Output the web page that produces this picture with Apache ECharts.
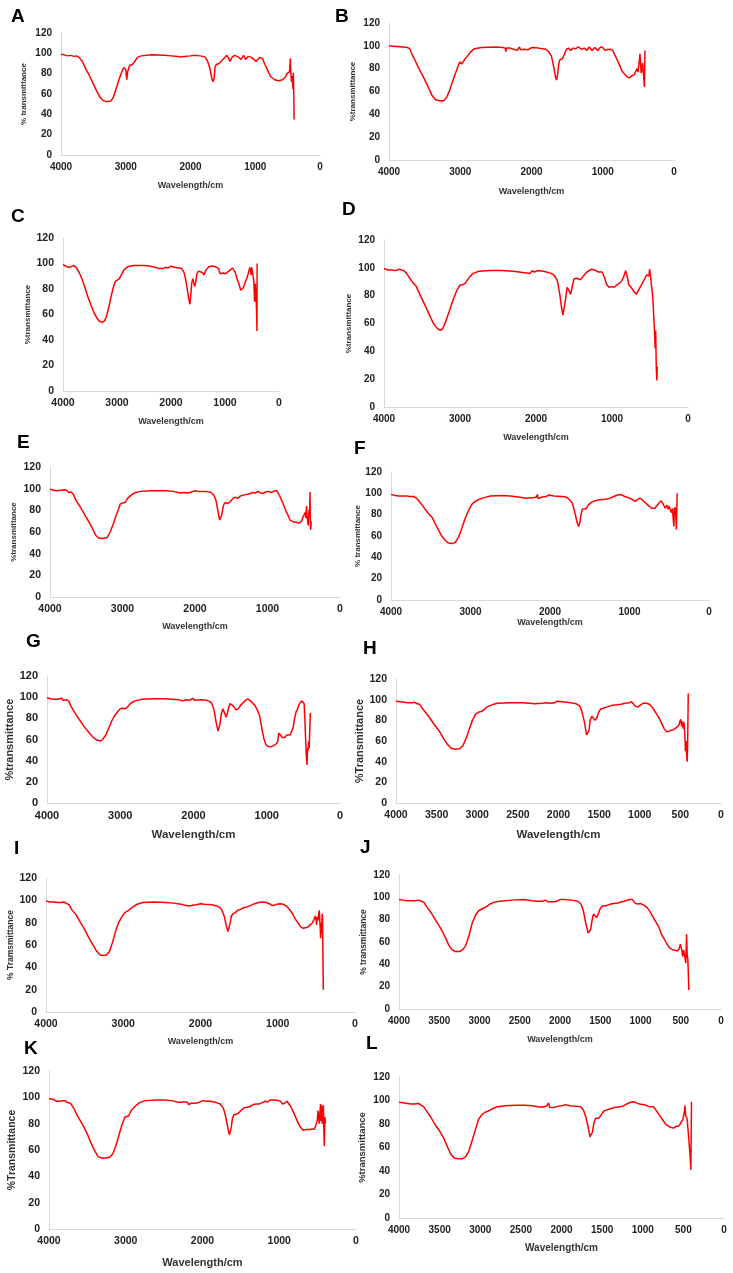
<!DOCTYPE html>
<html>
<head>
  <meta charset="utf-8">
  <title>FTIR spectra A-L</title>
  <script src="https://cdn.jsdelivr.net/npm/echarts/dist/echarts.min.js"></script>
  <style>
    html, body { margin: 0; padding: 0; background: #fff; }
  </style>
</head>
<body>
  <div id="main" style="width: 733px;height:1273px;"></div>
  <script type="text/javascript">
    // spectra: [wavenumber, %T]
    var specA = [[4000,99],[3950,98.5],[3900,97.5],[3850,98],[3800,97],[3760,97.5],[3720,96],[3700,96.5],[3670,92],[3620,85],[3560,78],[3500,70],[3450,63],[3400,57],[3350,53.5],[3300,52.5],[3230,53],[3190,57],[3150,65],[3100,75],[3060,82],[3030,86],[3000,84],[2985,74],[2970,82],[2940,88],[2900,89],[2870,91],[2820,96],[2760,97.5],[2600,98.5],[2400,98],[2300,97.5],[2200,97],[2150,96.5],[2100,97],[2000,97.5],[1950,98],[1850,97.5],[1780,96.5],[1740,93],[1700,85],[1670,75],[1650,72],[1635,76],[1620,87],[1600,89],[1560,90],[1530,92],[1500,94],[1470,96],[1440,98],[1410,95],[1390,92],[1360,96],[1320,98],[1290,99],[1250,96],[1220,94],[1180,98],[1150,94],[1110,97],[1060,96],[1020,94],[990,92],[960,94],[930,96],[890,95],[850,89],[800,82],[760,77],[700,74],[640,73],[580,74],[530,77],[510,80],[490,79],[470,82],[458,95],[450,80],[440,72],[430,78],[418,65],[412,81],[405,60],[400,35]];
    var specB = [[4000,100],[3900,99.5],[3800,99],[3740,98.5],[3710,97.5],[3680,93],[3640,88],[3580,80],[3520,73],[3450,64],[3400,57],[3350,53],[3300,52],[3230,52],[3190,55],[3150,61],[3100,70],[3060,77],[3020,84],[3000,86],[2980,84],[2965,83],[2940,88],[2900,91],[2850,95],[2800,97.5],[2700,98.5],[2500,99],[2400,98.5],[2370,98],[2360,95],[2350,98],[2300,98],[2250,97],[2200,96],[2170,99],[2150,96.5],[2100,97],[2050,96.5],[2000,98.5],[1900,98],[1800,97],[1760,95],[1720,91],[1690,82],[1660,72],[1648,70],[1635,74],[1615,85],[1600,88],[1570,88.5],[1540,92],[1510,97],[1480,98],[1450,96],[1420,98],[1380,97.5],[1340,99],[1300,97],[1260,98],[1220,96],[1190,99],[1150,96],[1110,98.5],[1070,96],[1030,99],[1000,98.5],[970,96],[940,96.5],[900,97],[860,96],[800,88],[770,84],[730,78],[690,75],[650,72.5],[620,72],[590,74],[560,74.5],[540,76],[520,80],[505,77],[490,85],[478,93],[470,86],[460,76],[450,80],[440,85],[432,78],[425,72],[415,64],[408,96]];
    var specC = [[4000,99],[3950,98],[3900,97],[3850,97.5],[3800,98.5],[3780,98],[3750,96.5],[3720,96],[3690,92],[3650,88],[3600,82],[3540,74],[3480,67],[3420,61],[3370,57],[3320,54.5],[3270,54],[3230,55],[3190,59],[3150,66],[3110,74],[3070,81],[3030,86],[3000,87.5],[2960,88],[2920,91],[2870,95],[2800,97.5],[2700,98.5],[2500,98.5],[2400,98],[2300,97],[2220,96],[2200,97],[2150,96],[2100,97],[2050,96.5],[2000,98],[1950,97],[1850,96.5],[1800,96],[1760,93],[1730,88],[1700,80],[1670,72],[1650,68],[1635,75],[1615,85],[1595,88],[1580,85],[1560,82],[1540,86],[1520,92],[1490,94],[1460,92.5],[1420,93],[1390,91],[1350,95],[1300,97.5],[1250,98],[1180,97.5],[1150,98.5],[1120,96],[1090,92],[1060,91],[1030,92.5],[990,92],[960,93],[900,95],[860,96.5],[840,97],[810,93],[770,87],[740,84],[710,79],[690,78],[660,81],[630,85],[600,88],[570,92],[540,97],[525,96],[515,91],[505,97],[495,98],[480,97],[465,86],[452,70],[440,84],[425,73],[415,62],[408,47],[405,100]];
    var specD = [[4000,99.5],[3950,98.5],[3900,98.5],[3850,98],[3800,99],[3780,98],[3740,98],[3710,96.5],[3680,94],[3630,90],[3580,87],[3520,80],[3460,73],[3400,66],[3350,60],[3300,56.5],[3260,55],[3230,56],[3190,61],[3140,69],[3090,77],[3040,84],[3000,87.5],[2960,88],[2930,89],[2880,93],[2830,96],[2750,97.5],[2600,98],[2450,98],[2300,97.5],[2150,96.5],[2080,96],[2050,98],[2020,97],[1980,98],[1900,97.5],[1800,96],[1760,94.5],[1720,91],[1690,82],[1660,70],[1645,66],[1630,66],[1610,78],[1590,86],[1570,84],[1545,81],[1525,86],[1500,92],[1470,92.5],[1440,92],[1410,91.5],[1380,94],[1330,97],[1270,99],[1230,98.5],[1180,97],[1130,97],[1100,93],[1070,88],[1040,86],[1000,86.5],[970,86],[930,88],[880,90],[850,93],[820,98],[800,94],[780,88],[750,86],[710,83],[680,81],[640,85],[600,89],[570,92],[545,95],[530,95.5],[515,94],[505,99],[495,95],[480,87],[465,80],[450,65],[440,53],[432,42],[425,55],[418,30],[410,19],[405,28],[400,29]];
    var specE = [[4000,99.5],[3950,98.5],[3900,98],[3850,98.5],[3800,99],[3770,98.5],[3740,96.5],[3710,97],[3680,95],[3640,89],[3590,84],[3530,77],[3470,70],[3420,64],[3370,57],[3330,54.5],[3270,54],[3210,55],[3170,60],[3130,67],[3090,75],[3050,82],[3030,86],[2990,87],[2960,87.5],[2930,91],[2880,94],[2820,96.5],[2750,97.5],[2600,98],[2400,98],[2300,97.5],[2230,96.5],[2200,96],[2150,96.5],[2100,96],[2050,97],[2000,98],[1950,97.5],[1850,97.5],[1780,96.5],[1740,94],[1710,89],[1680,78],[1660,71],[1645,70],[1630,76],[1610,84],[1590,87],[1560,86.5],[1530,87],[1500,89],[1470,91.5],[1440,92],[1410,91],[1380,93],[1340,94],[1300,94.5],[1250,95],[1210,96.5],[1170,96],[1130,97.5],[1100,96],[1060,95.5],[1030,97],[990,97.5],[950,96.5],[900,98],[870,98],[830,93],[790,87],[750,80],[720,76],[690,71],[650,69.5],[600,69],[560,68],[530,70],[510,74],[495,75],[480,78],[470,73],[462,84],[455,74],[445,70],[438,66],[428,80],[420,76],[414,97],[408,64],[403,62],[398,70]];
    var specF = [[4000,99],[3950,98],[3900,97.5],[3850,97.5],[3800,97.5],[3760,97],[3720,97],[3680,95.5],[3650,93],[3600,88],[3540,82],[3480,77],[3420,68],[3370,61],[3320,56],[3280,53.5],[3230,53],[3190,54],[3150,59],[3110,67],[3070,76],[3030,83],[2990,89],[2950,92],[2900,94],[2850,95.5],[2750,97.5],[2600,98],[2500,97.5],[2400,96.5],[2300,95.5],[2200,96],[2170,96.5],[2158,99],[2150,95],[2100,96.5],[2050,97],[2010,98.5],[1950,97.5],[1850,97],[1800,96.5],[1760,94.5],[1720,91],[1690,83],[1660,73],[1640,69],[1625,72],[1610,80],[1595,85],[1570,86.5],[1545,85.5],[1520,89],[1480,91.5],[1430,93],[1380,94],[1300,94.5],[1240,95.5],[1200,97],[1150,98.5],[1110,99],[1060,97],[1000,95.5],[960,94],[930,92.5],[900,94],[870,95.5],[840,94],[800,91],[760,88.5],[720,86],[680,86],[660,87],[640,90],[620,91],[600,93],[585,93.5],[570,89],[550,86],[530,89],[515,85],[500,88],[485,84],[470,82],[460,86],[450,76],[442,69],[435,85],[425,87],[418,80],[410,66],[405,85],[400,100]];
    var specG = [[4000,99.5],[3950,98.5],[3900,98],[3860,98],[3830,98.5],[3800,99],[3780,97],[3760,96],[3730,97.5],[3700,96],[3670,91],[3630,86.5],[3580,81],[3530,76],[3480,71],[3420,66],[3370,62],[3320,59.5],[3270,58.5],[3240,60],[3200,64],[3160,70],[3120,77],[3080,82],[3040,86],[3000,89],[2960,89.5],[2930,89],[2900,91],[2860,94],[2800,96.5],[2700,98],[2550,98.5],[2400,98.5],[2300,98],[2200,97.5],[2150,96.5],[2100,97.5],[2050,97],[2010,99],[1980,97],[1900,97.5],[1820,97],[1780,96],[1750,94],[1720,88],[1690,76],[1665,68],[1655,67],[1640,74],[1620,84],[1600,89],[1585,88],[1570,84],[1555,81],[1540,84],[1520,90],[1500,94],[1480,93],[1450,91],[1420,88],[1390,89],[1360,92],[1320,95],[1290,97],[1260,98.5],[1230,97],[1200,95],[1160,92],[1130,88],[1100,83],[1080,76],[1060,68],[1040,61],[1010,55],[980,53.5],[950,53],[910,54],[870,56],[850,58],[835,66],[825,67],[810,64],[790,62],[770,63],[750,62],[730,64],[710,65],[680,64.5],[660,64],[640,71],[620,80],[600,86],[580,88.5],[560,93],[540,94],[525,96.5],[510,95],[500,96.5],[490,94],[480,80],[470,62],[462,48],[455,40],[450,36],[442,52],[435,50],[428,58],[420,52],[410,75],[405,85]];
    var specH = [[4000,98.5],[3950,98],[3900,97.5],[3850,97],[3800,97],[3770,97.5],[3740,96],[3710,95.5],[3680,92],[3640,88],[3590,83],[3530,76],[3470,70],[3420,63],[3370,57],[3320,53],[3270,52],[3220,52.5],[3180,55],[3140,62],[3100,71],[3060,80],[3020,86],[2980,88],[2950,88.5],[2920,90],[2880,93],[2820,95],[2750,96.5],[2600,97],[2450,97],[2350,96.5],[2300,96],[2200,96.5],[2150,97],[2100,96.5],[2050,97],[2020,98.5],[2000,97],[1950,98],[1850,97],[1780,96],[1740,94],[1710,88],[1680,78],[1655,66],[1640,64.5],[1625,70],[1610,80],[1590,84],[1570,83],[1550,80],[1530,82],[1505,88],[1480,91],[1440,92],[1400,93],[1340,94.5],[1280,95],[1230,95.5],[1180,96.5],[1130,97],[1100,98],[1080,97],[1050,93.5],[1020,93],[990,95],[960,96.5],[920,96.5],[880,95.5],[840,92],[800,87],[760,82],[730,77],[700,72],[670,69],[640,69.5],[610,70.5],[580,71],[550,73],[520,75],[505,79],[495,81],[485,74],[475,79],[465,72],[455,78],[445,66],[438,50],[430,60],[422,45],[416,40],[410,60],[403,106]];
    var specI = [[4000,99.5],[3950,98.5],[3900,98.5],[3850,98],[3800,98],[3770,98.5],[3730,97],[3700,96],[3660,91],[3610,87],[3560,81],[3500,74],[3450,67],[3400,61],[3350,55],[3300,51],[3260,50.5],[3220,51],[3180,54],[3140,62],[3100,72],[3060,80],[3020,85],[2980,89],[2930,91],[2880,94],[2820,96.5],[2750,98],[2600,98.5],[2450,98],[2350,97.5],[2250,96.5],[2200,95.5],[2150,95],[2100,95.5],[2050,96],[2000,97],[1950,96.5],[1850,96],[1790,95],[1750,93.5],[1720,91],[1690,85],[1665,77],[1645,72],[1630,73],[1615,80],[1600,86],[1580,88],[1550,89],[1520,91],[1480,92],[1440,93.5],[1400,94],[1350,95.5],[1300,97],[1250,98],[1200,98.5],[1150,98],[1110,97],[1080,95.5],[1050,95.5],[1010,96.5],[970,97],[930,96.5],[890,95],[850,92],[810,88],[770,83],[730,79],[700,76],[670,75],[640,75.5],[610,76],[580,78],[550,80],[530,83],[515,86],[505,83],[497,78],[490,85],[480,82],[470,88],[462,91],[456,82],[450,75],[445,66],[438,80],[430,70],[425,88],[420,84],[415,50],[410,20]];
    var specJ = [[4000,98],[3950,97.5],[3900,97],[3850,97],[3800,97],[3760,97.5],[3720,96.5],[3690,95.5],[3650,91],[3600,86],[3540,79],[3480,72],[3430,65],[3380,57],[3340,53],[3300,51.5],[3250,51.5],[3210,53],[3170,57],[3130,66],[3090,77],[3050,84],[3010,88],[2960,90],[2920,91.5],[2870,94],[2820,95.5],[2750,96.5],[2600,97.5],[2450,98],[2350,97],[2280,96.5],[2220,96.5],[2180,97.5],[2150,96],[2080,96],[2040,96.5],[2000,98],[1950,98],[1850,97.5],[1780,96.5],[1740,94],[1710,88],[1680,77],[1650,68],[1635,67],[1620,71],[1600,80],[1585,85],[1565,84],[1545,82],[1525,85],[1500,90],[1470,92.5],[1430,92.5],[1390,93.5],[1340,94.5],[1280,95],[1230,96],[1180,97],[1140,98],[1120,99],[1100,98],[1070,95],[1040,94],[1000,94.5],[960,93],[920,91],[880,87],[850,83],[810,78],[770,73],[740,67],[700,62],[670,58],[640,55],[600,53],[570,52.5],[540,52],[520,54],[505,58],[495,55],[485,52],[475,47],[465,53],[455,49],[445,45],[437,41],[428,67],[420,48],[412,45],[405,30],[400,17]];
    var specK = [[4000,99],[3950,98.5],[3900,97],[3860,97],[3820,97.5],[3790,97.5],[3760,96],[3740,95],[3720,95.5],[3700,95],[3670,91],[3640,87],[3600,83],[3550,78],[3500,72],[3450,65],[3400,59],[3360,55],[3320,54],[3260,54],[3210,54.5],[3170,57],[3130,63],[3090,71],[3050,79],[3010,85],[2990,86.5],[2960,86],[2930,90],[2880,93],[2820,96],[2750,97.5],[2600,98],[2500,98],[2400,97.5],[2300,96],[2250,96.5],[2200,96.5],[2180,94.5],[2150,95.5],[2100,95.5],[2050,96],[2000,97.5],[1980,98],[1950,97],[1900,97],[1820,96],[1770,95],[1730,92],[1700,86],[1670,77],[1650,71.5],[1640,71],[1625,77],[1610,84],[1590,87],[1560,87],[1530,88],[1500,90],[1460,92],[1420,92.5],[1380,93],[1340,94.5],[1300,95],[1260,95],[1220,96],[1180,97],[1150,96.5],[1120,98],[1100,99],[1060,98],[1010,97.5],[980,97],[960,95],[945,94],[930,95.5],[900,97],[880,96.5],[850,93],[810,88],[780,84],[750,80],[720,77],[690,75],[650,75.5],[610,75.5],[570,76],[540,76],[520,77],[505,82],[495,90],[485,84],[478,80],[470,88],[462,95],[455,82],[448,94],[440,80],[432,84],[425,94],[420,78],[413,63],[405,85],[398,80]];
    var specL = [[4000,98.5],[3950,98],[3900,97.5],[3850,97],[3800,97],[3760,97.5],[3730,96],[3700,95],[3660,91],[3610,86],[3560,80],[3500,74],[3450,68],[3400,60],[3360,54],[3320,51],[3270,50.5],[3220,50.5],[3180,52],[3140,57],[3100,66],[3060,75],[3020,84],[2980,88],[2940,90],[2900,91],[2850,93],[2800,94.5],[2700,95.5],[2550,96],[2450,96],[2350,95.5],[2280,94.5],[2220,94.5],[2180,95.5],[2160,98],[2145,94],[2100,94],[2050,95],[2000,95.5],[1950,96.5],[1900,95.5],[1800,95],[1760,94.5],[1730,92],[1700,86],[1670,77],[1650,69],[1635,67.5],[1620,73],[1600,81],[1580,85],[1560,85.5],[1540,85],[1510,88],[1480,91],[1440,92],[1400,93],[1350,94],[1300,94.5],[1250,95],[1200,97],[1150,98.5],[1120,99],[1080,98],[1040,97],[1000,96.5],[960,96],[930,95],[900,94.5],[870,95],[840,92],[800,88],[760,84],[720,80],[680,78],[650,77],[620,76.5],[590,78],[560,78],[540,80],[520,81],[505,84],[495,88],[488,90],[480,96],[472,87],[465,88],[455,85],[445,77],[435,76],[425,60],[415,50],[408,41],[400,99]];

    var letters = ['A', 'B', 'C', 'D', 'E', 'F', 'G', 'H', 'I', 'J', 'K', 'L'];
    var spectra = [specA, specB, specC, specD, specE, specF, specG, specH, specI, specJ, specK, specL];
    var yTitles = ['% transmittance', '%transmittance', '%transmittance', '%transmittance',
      '%transmittance', '% transmittance', '%transmittance', '%Transmittance',
      '% Tramsmittance', '% transmittance', '%Transmittance', '%transmittance'];
    var xTitle = 'Wavelength/cm';
    var xSteps = [1000, 1000, 1000, 1000, 1000, 1000, 1000, 500, 1000, 500, 1000, 500];

    // panel boxes in pixels + font sizes
    var lay = [
      { l: 61, t: 33, r: 320, b: 155, tk: 10, xn: 9, yn: 8, xg: 26, yg: 33, lx: 18, ly: 18 },
      { l: 389, t: 23, r: 674, b: 160, tk: 10, xn: 9, yn: 8, xg: 27, yg: 32, lx: 342, ly: 18 },
      { l: 63, t: 238, r: 279, b: 391, tk: 10.5, xn: 9, yn: 8, xg: 26, yg: 31, lx: 18, ly: 218 },
      { l: 384, t: 240, r: 688, b: 407, tk: 10, xn: 9, yn: 8, xg: 26, yg: 31, lx: 349, ly: 211 },
      { l: 50, t: 467, r: 340, b: 597, tk: 10.5, xn: 9, yn: 8, xg: 25, yg: 32, lx: 24, ly: 444 },
      { l: 391, t: 472, r: 709, b: 600, tk: 10, xn: 9, yn: 8, xg: 17, yg: 24, lx: 361, ly: 450 },
      { l: 47, t: 676, r: 340, b: 803, tk: 11, xn: 11.5, yn: 11, xg: 26, yg: 30, lx: 33, ly: 643 },
      { l: 396, t: 679, r: 721, b: 803, tk: 10.5, xn: 11.5, yn: 11, xg: 26, yg: 31, lx: 370, ly: 650 },
      { l: 46, t: 878, r: 355, b: 1012, tk: 10.5, xn: 9, yn: 8.5, xg: 25, yg: 31, lx: 21, ly: 850 },
      { l: 399, t: 875, r: 721, b: 1009, tk: 10, xn: 9, yn: 8.5, xg: 26, yg: 31, lx: 367, ly: 849 },
      { l: 49, t: 1071, r: 356, b: 1229, tk: 10.5, xn: 11, yn: 10.5, xg: 28, yg: 31, lx: 31, ly: 1050 },
      { l: 399, t: 1077, r: 724, b: 1218, tk: 10, xn: 10, yn: 9.5, xg: 25, yg: 32, lx: 373, ly: 1045 }
    ];

    var font = 'Liberation Sans, Arial, sans-serif';
    var grids = [], xAxes = [], yAxes = [], series = [], texts = [];
    var plain = function (v) { return String(v); };

    spectra.forEach(function (data, i) {
      var p = lay[i];
      grids.push({ left: p.l, top: p.t, width: p.r - p.l, height: p.b - p.t, containLabel: false });
      xAxes.push({
        gridIndex: i, type: 'value', min: 0, max: 4000, interval: xSteps[i], inverse: true,
        name: xTitle, nameLocation: 'middle', nameGap: p.xg,
        nameTextStyle: { fontFamily: font, fontWeight: 'bold', fontSize: p.xn, color: '#333' },
        axisLine: { show: true, onZero: false, lineStyle: { color: '#d9d9d9', width: 1 } },
        axisTick: { show: false }, splitLine: { show: false },
        axisLabel: { fontFamily: font, fontWeight: 'bold', fontSize: p.tk, color: '#222', margin: 7, formatter: plain }
      });
      yAxes.push({
        gridIndex: i, type: 'value', min: 0, max: 120, interval: 20, position: 'left',
        name: yTitles[i], nameLocation: 'middle', nameGap: p.yg,
        nameTextStyle: { fontFamily: font, fontWeight: 'bold', fontSize: p.yn, color: '#333' },
        axisLine: { show: true, onZero: false, lineStyle: { color: '#d9d9d9', width: 1 } },
        axisTick: { show: false }, splitLine: { show: false },
        axisLabel: { fontFamily: font, fontWeight: 'bold', fontSize: p.tk, color: '#222', margin: 9, formatter: plain }
      });
      series.push({
        type: 'line', xAxisIndex: i, yAxisIndex: i, data: data,
        showSymbol: false, silent: true,
        lineStyle: { color: '#ff0000', width: 1.5 }
      });
      texts.push({
        type: 'text', left: p.lx - 7, top: p.ly - 11,
        style: { text: letters[i], font: 'bold 19px ' + font, fill: '#000' }
      });
    });

    var myChart = echarts.init(document.getElementById('main'));
    myChart.setOption({
      backgroundColor: '#fff',
      animation: false,
      grid: grids,
      xAxis: xAxes,
      yAxis: yAxes,
      series: series,
      graphic: texts
    });
  </script>
</body>
</html>
